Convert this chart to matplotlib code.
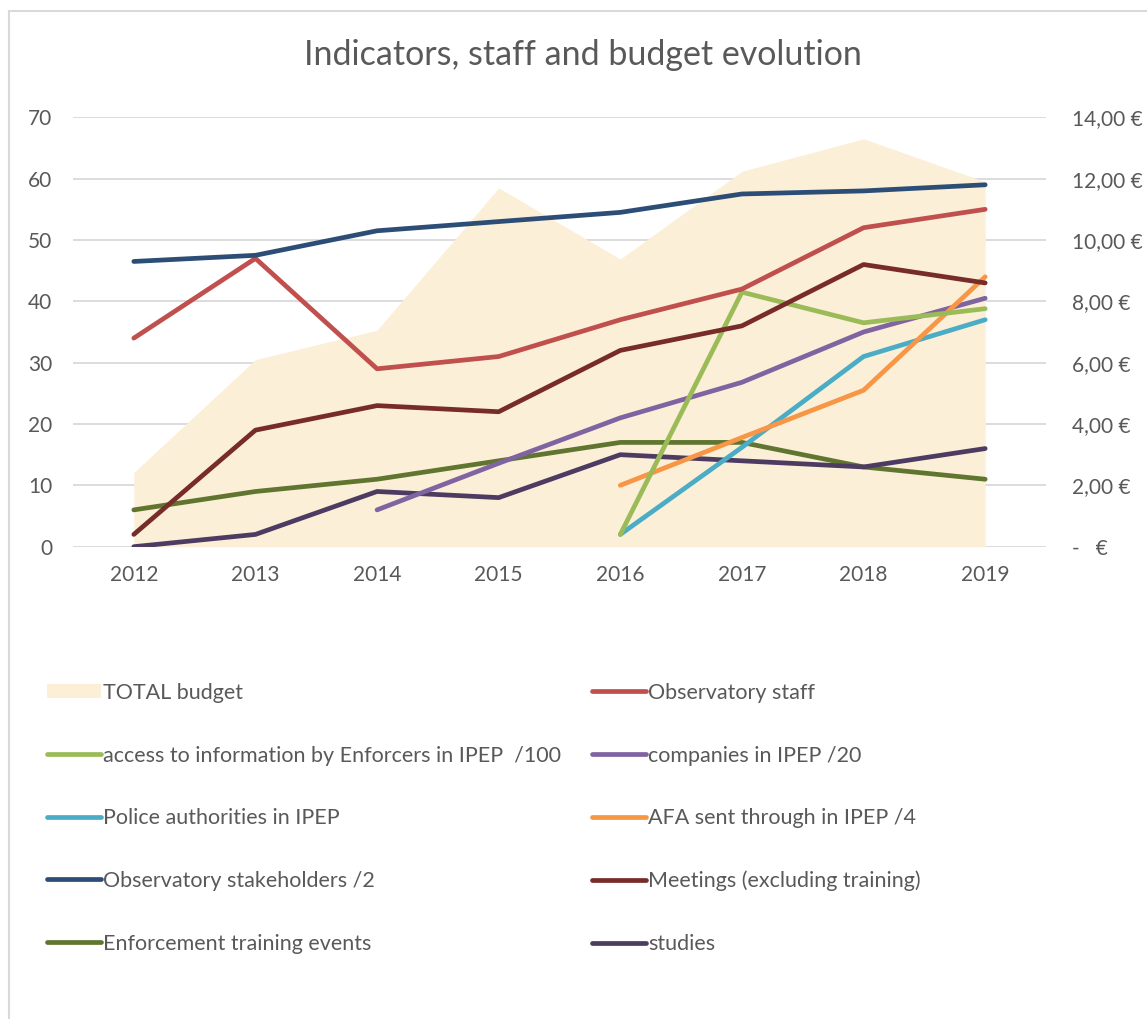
import matplotlib
matplotlib.use("Agg")
import matplotlib.pyplot as plt
import matplotlib.patches as mpatches
from matplotlib.lines import Line2D
from matplotlib.ticker import FuncFormatter

plt.rcParams["font.family"] = ["Lato", "DejaVu Sans"]

# ---- data ----
years = [2012, 2013, 2014, 2015, 2016, 2017, 2018, 2019]
budget = [2.42, 6.1, 7.06, 11.7, 9.38, 12.24, 13.3, 11.9]   # right axis, €

staff = [34, 47, 29, 31, 37, 42, 52, 55]
stakeholders = [46.5, 47.5, 51.5, 53, 54.5, 57.5, 58, 59]
meetings = [2, 19, 23, 22, 32, 36, 46, 43]
training = [6, 9, 11, 14, 17, 17, 13, 11]
studies = [0, 2, 9, 8, 15, 14, 13, 16]

companies_years = [2014, 2015, 2016, 2017, 2018, 2019]
companies = [6, 13.6, 21, 26.8, 35, 40.5]

late_years = [2016, 2017, 2018, 2019]
access_info = [2, 41.5, 36.5, 38.8]
police = [2, 16.2, 31, 37]
afa = [10, 17.8, 25.5, 44]

# (label, x, y, colour)
series = [
    ("Observatory staff", years, staff, "#C0504D"),
    ("access to information by Enforcers in IPEP  /100", late_years, access_info, "#9BBB59"),
    ("companies in IPEP /20", companies_years, companies, "#8064A2"),
    ("Police authorities in IPEP", late_years, police, "#4BACC6"),
    ("AFA sent through in IPEP /4", late_years, afa, "#F79646"),
    ("Observatory stakeholders /2", years, stakeholders, "#2C4D75"),
    ("Meetings (excluding training)", years, meetings, "#772C2A"),
    ("Enforcement training events", years, training, "#5F7530"),
    ("studies", years, studies, "#4D3B62"),
]
# draw order so the overlaps look like the reference
draw_order = [7, 8, 2, 3, 4, 1, 6, 0, 5]

TEXT = "#595959"
AREA = "#FCEFD7"

fig = plt.figure(figsize=(11.47, 10.19), dpi=100)

# outer chart border
fig.patches.append(mpatches.Rectangle(
    (9 / 1147, -0.01), 1.02, 1 - 11 / 1019 + 0.01, transform=fig.transFigure,
    fill=False, edgecolor="#D9D9D9", linewidth=1.5))

rect = [73 / 1147, 1 - 546.7 / 1019, (1046 - 73) / 1147, (546.7 - 117.3) / 1019]
ax2 = fig.add_axes(rect)          # budget + grid (drawn below)
ax = fig.add_axes(rect, sharex=ax2)  # indicator lines (drawn on top)
ax.patch.set_visible(False)

x_idx = {y: i for i, y in enumerate(years)}

# budget area on right axis
bx = [x_idx[y] for y in years]
ax2.fill_between(bx, 0, budget, color=AREA, linewidth=0, zorder=2)
ax2.set_ylim(0, 14)
ax2.set_yticks(range(0, 15, 2))
ax2.yaxis.tick_right()
ax2.yaxis.set_major_formatter(FuncFormatter(
    lambda v, p: "-   €" if v == 0 else f"{v:.2f}".replace(".", ",") + " €"))
ax2.grid(axis="y", color="#D9D9D9", linewidth=1.3, zorder=1)
ax2.set_axisbelow(True)

for i in draw_order:
    label, xs, ys, c = series[i]
    ax.plot([x_idx[y] for y in xs], ys, color=c, linewidth=3.4,
            solid_capstyle="round", solid_joinstyle="round")

ax.set_ylim(0, 70)
ax.set_yticks(range(0, 71, 10))
ax.set_xlim(-0.5, len(years) - 0.5)
ax.set_xticks(range(len(years)))
ax.set_xticklabels([str(y) for y in years])

for a in (ax, ax2):
    for s in a.spines.values():
        s.set_visible(False)
ax.tick_params(axis="y", length=0, pad=15, labelsize=15, labelcolor=TEXT)
ax.tick_params(axis="x", length=0, pad=13, labelsize=15, labelcolor=TEXT)
ax2.tick_params(axis="y", length=0, pad=19, labelsize=15, labelcolor=TEXT,
                labelright=True, labelleft=False)
ax2.tick_params(axis="x", labelbottom=False, length=0)

fig.text(583 / 1147, 1 - 55 / 1019, "Indicators, staff and budget evolution",
         ha="center", va="center", fontsize=24.5, color=TEXT)

# legend, row-major as in the reference: two separate columns
def handle(i):
    label, xs, ys, c = series[i]
    return Line2D([0], [0], color=c, linewidth=3.4, solid_capstyle="round"), label

budget_handle = Line2D([0], [0], color=AREA, linewidth=10, solid_capstyle="butt")
left_items = [(budget_handle, "TOTAL budget")]
left_items += [handle(i) for i in (1, 3, 5, 7)]
right_items = [handle(i) for i in (0, 2, 4, 6, 8)]

for items, xpos in ((left_items, 47 / 1147), (right_items, 592 / 1147)):
    fig.legend([h for h, _ in items], [l for _, l in items],
               loc="upper left", bbox_to_anchor=(xpos, 1 - 683 / 1019),
               ncol=1, frameon=False, fontsize=15.5, labelcolor=TEXT,
               handlelength=2.5, handleheight=0.7, handletextpad=0.1,
               labelspacing=1.98, borderaxespad=0, borderpad=0)

fig.savefig("out.png", dpi=100)
